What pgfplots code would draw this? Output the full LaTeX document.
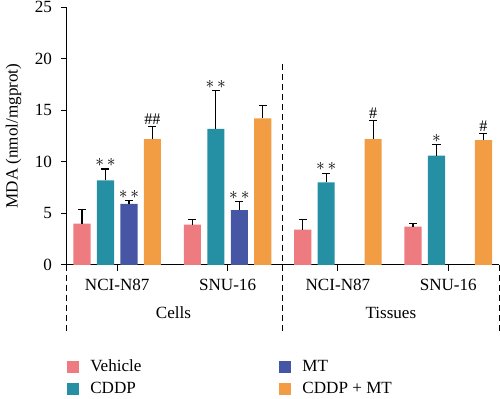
\documentclass[border=0pt]{standalone}
\usepackage{pgfplots}
\pgfplotsset{compat=1.18}
\usepackage{fontspec}
\setmainfont{Liberation Serif}
\definecolor{cVeh}{RGB}{238,123,128}
\definecolor{cCDDP}{RGB}{37,144,163}
\definecolor{cMT}{RGB}{71,85,165}
\definecolor{cComb}{RGB}{242,156,67}
\begin{document}
\fontsize{17}{20}\selectfont
\begin{tikzpicture}
\begin{axis}[
  scale only axis, width=430pt, height=256pt,
  xmin=-0.456, xmax=3.464, ymin=0, ymax=25,
  axis x line*=bottom, axis y line*=left,
  axis line style={line width=1.1pt, -},
  xtick={0,1,2,3}, xticklabels={NCI-N87,SNU-16,NCI-N87,SNU-16},
  ytick={0,5,10,15,20,25},
  tick align=outside, major tick length=6pt,
  tick style={line width=1.1pt, black},
  /pgf/number format/assume math mode=true,
  ticklabel style={font=\fontsize{17}{20}\selectfont},
  xticklabel style={yshift=-2pt},
  yticklabel style={inner ysep=1.5pt, xshift=-3pt},
  ylabel={MDA (nmol/mgprot)},
  ylabel style={font=\fontsize{17}{20}\selectfont, yshift=2pt},
  ybar, bar width=17pt,
  clip=false,
  legend style={draw=none, at={(0,-0.36)}, anchor=north west, legend columns=2,
     font=\fontsize{17}{20}\selectfont, row sep=4pt, inner sep=0pt},
  transpose legend,
  legend cell align=left,
  legend image code/.code={\fill[#1, draw=none] (0pt,-6pt) rectangle (12pt,6pt);},
  error bars/y dir=plus, error bars/y explicit,
  error bars/error bar style={black, line width=1.1pt},
  error bars/error mark options={rotate=90, mark size=4pt, black, line width=1.1pt},
]
\addplot[fill=cVeh, draw=none, bar shift=-35pt] coordinates {
  (0,4.0) +- (0,1.4) (1,3.9) +- (0,0.5) (2,3.4) +- (0,1.0) (3,3.7) +- (0,0.3)};
\addlegendentry{\hspace{9pt}\makebox[186pt][l]{Vehicle}}
\addplot[fill=cCDDP, draw=none, bar shift=-11.7pt] coordinates {
  (0,8.2) +- (0,1.1) (1,13.2) +- (0,3.7) (2,8.0) +- (0,0.9) (3,10.6) +- (0,1.1)};
\addlegendentry{\hspace{9pt}CDDP}
\addplot[fill=cMT, draw=none, bar shift=11.7pt] coordinates {
  (0,5.9) +- (0,0.3) (1,5.3) +- (0,0.8)};
\addlegendentry{\hspace{9pt}MT}
\addplot[fill=cComb, draw=none, bar shift=35pt] coordinates {
  (0,12.2) +- (0,1.2) (1,14.2) +- (0,1.3) (2,12.2) +- (0,1.8) (3,12.1) +- (0,0.6)};
\addlegendentry{\hspace{9pt}CDDP + MT}
% significance labels
\addplot[draw=none, fill=none, bar shift=-11.7pt, forget plot, nodes near coords, point meta=explicit symbolic,
  every node near coord/.append style={anchor=south, inner sep=2pt, font=\fontsize{17}{20}\selectfont}]
  coordinates {(0,9.3) [$\ast\,\ast$] (1,16.9) [$\ast\,\ast$] (2,8.9) [$\ast\,\ast$] (3,11.7) [$\ast$]};
\addplot[draw=none, fill=none, bar shift=11.7pt, forget plot, nodes near coords, point meta=explicit symbolic,
  every node near coord/.append style={anchor=south, inner sep=2pt, font=\fontsize{17}{20}\selectfont}]
  coordinates {(0,6.2) [$\ast\,\ast$] (1,6.1) [$\ast\,\ast$]};
\addplot[draw=none, fill=none, bar shift=35pt, forget plot, nodes near coords, point meta=explicit symbolic,
  every node near coord/.append style={anchor=south, inner sep=2pt, font=\fontsize{16}{18}\selectfont}]
  coordinates {(0,13.4) [\#\#] (2,14.0) [\#] (3,12.7) [\#]};
% separators and group labels
\draw[line width=1.1pt, dash pattern=on 6pt off 4pt] (axis cs:-0.456,0) -- ([yshift=-68pt]axis cs:-0.456,0);
\draw[line width=1.1pt, dash pattern=on 6pt off 4pt] (axis cs:1.5,19.5) -- ([yshift=-68pt]axis cs:1.5,0);
\draw[line width=1.1pt, dash pattern=on 6pt off 4pt] (axis cs:3.464,0) -- ([yshift=-68pt]axis cs:3.464,0);
\node at ([yshift=-48pt]axis cs:0.51,0) {Cells};
\node at ([yshift=-48pt]axis cs:2.48,0) {Tissues};
\end{axis}
\end{tikzpicture}
\end{document}
